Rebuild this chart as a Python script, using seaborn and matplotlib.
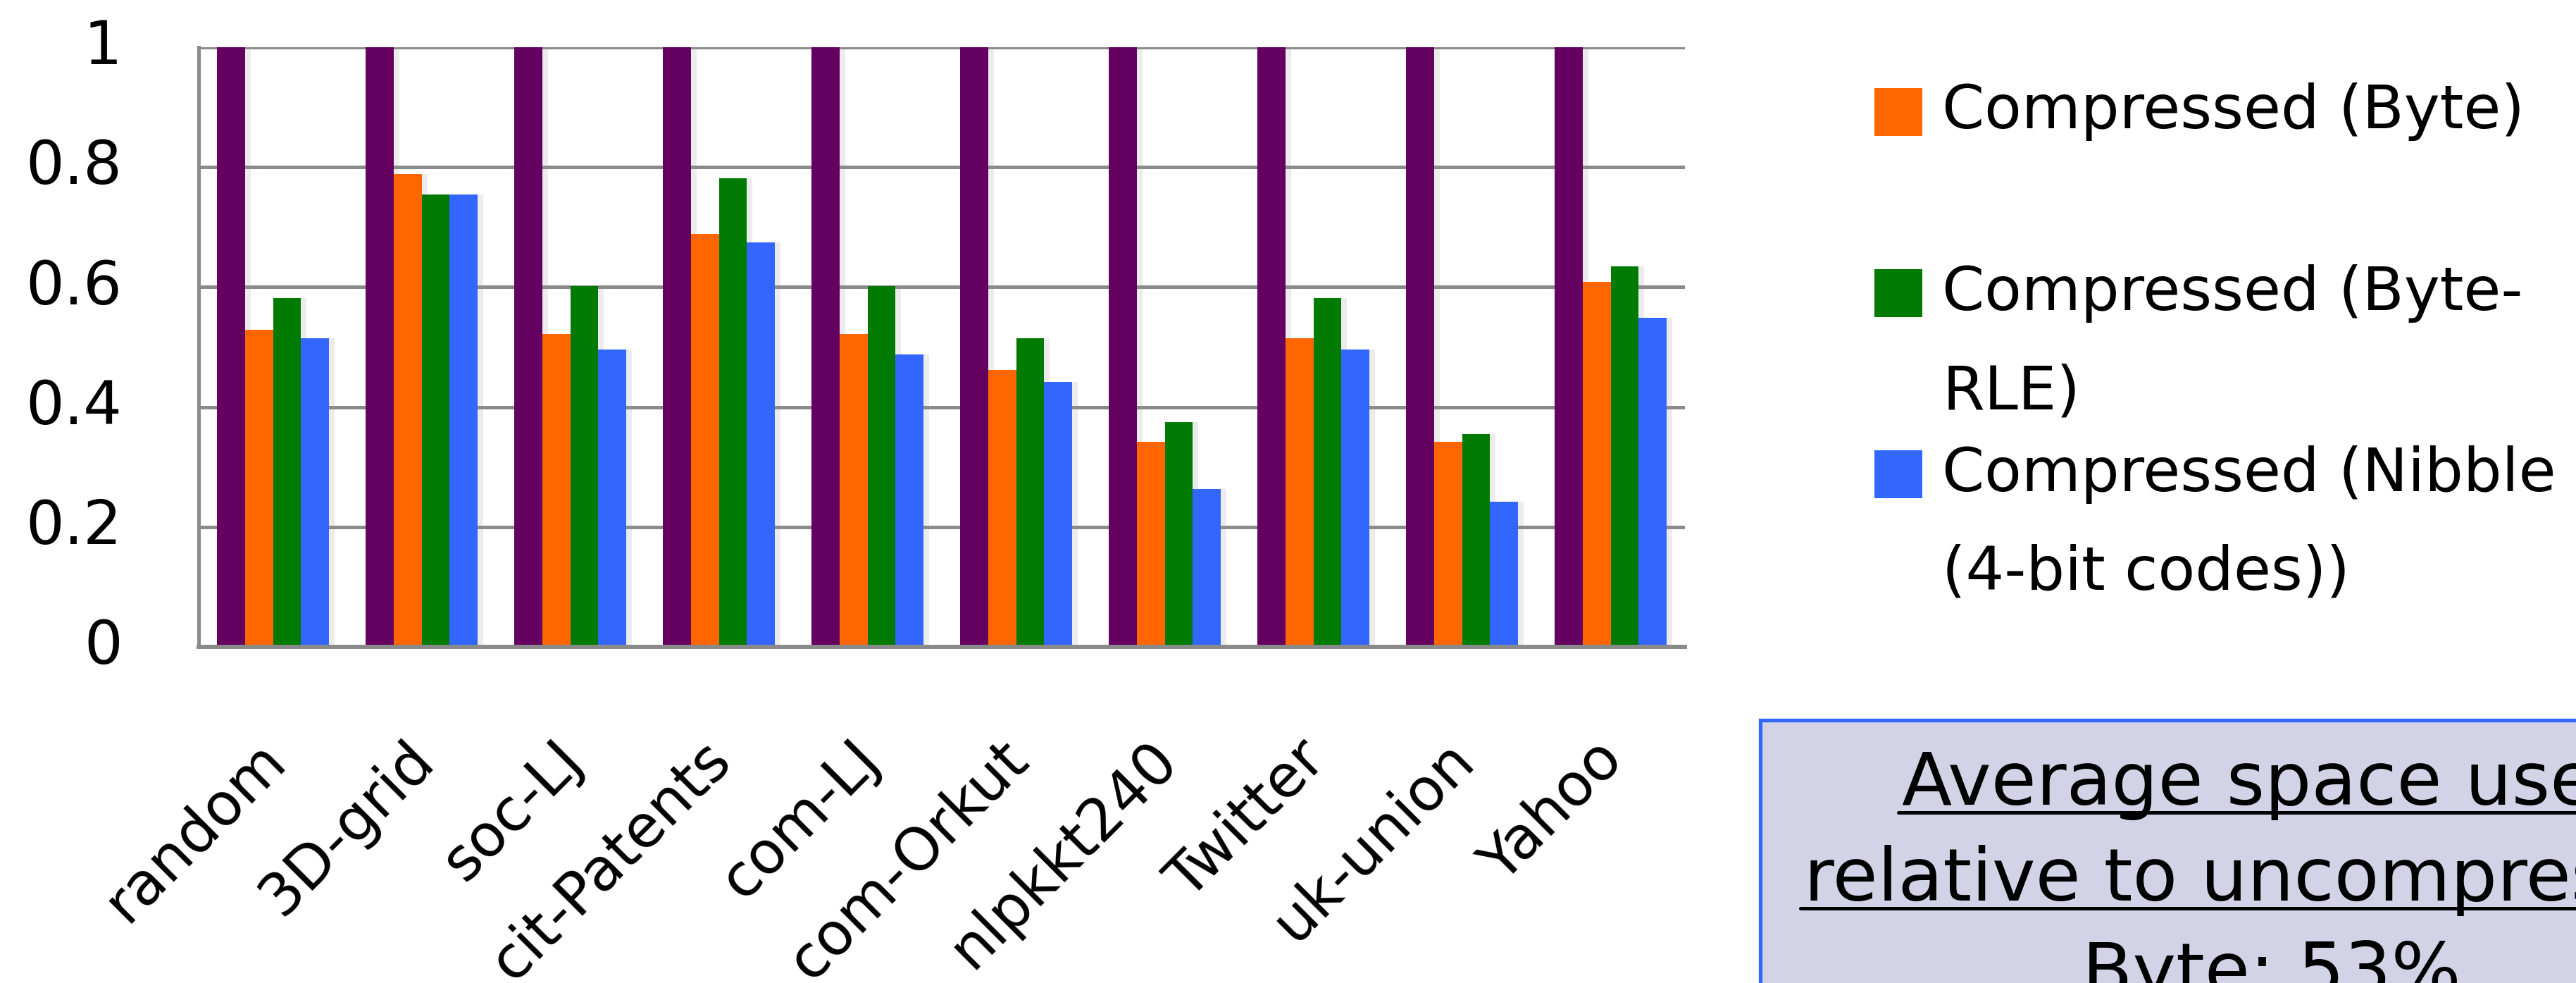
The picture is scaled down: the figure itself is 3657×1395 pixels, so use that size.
import numpy as np
import pandas as pd
import matplotlib
matplotlib.use("Agg")
import matplotlib.pyplot as plt
import seaborn as sns
from matplotlib import patheffects, transforms
from matplotlib.patches import Rectangle
from matplotlib.lines import Line2D

# ---- data -------------------------------------------------------------
graphs = ["random", "3D-grid", "soc-LJ", "cit-Patents", "com-LJ",
          "com-Orkut", "nlpkkt240", "Twitter", "uk-union", "Yahoo"]
formats = ["Uncompressed", "Compressed (Byte)", "Compressed (Byte-RLE)",
           "Compressed (Nibble (4-bit codes))"]
uncompressed = [1.0, 1.0, 1.0, 1.0, 1.0, 1.0, 1.0, 1.0, 1.0, 1.0]
byte = [0.529, 0.788, 0.522, 0.689, 0.522, 0.462, 0.342, 0.515, 0.342, 0.609]
byte_rle = [0.582, 0.754, 0.602, 0.781, 0.602, 0.515, 0.375, 0.582, 0.355, 0.635]
nibble = [0.515, 0.754, 0.496, 0.675, 0.488, 0.442, 0.263, 0.496, 0.242, 0.549]
colors = ["#640060", "#ff6600", "#007a00", "#3366ff"]
yticks = [0, 0.2, 0.4, 0.6, 0.8, 1.0]
ytick_labels = ["0", "0.2", "0.4", "0.6", "0.8", "1"]

df = pd.DataFrame({
    "graph": graphs * 4,
    "format": np.repeat(formats, len(graphs)),
    "ratio": uncompressed + byte + byte_rle + nibble,
})

# ---- style ------------------------------------------------------------
sns.set_style("white")
plt.rcParams["font.family"] = ["DejaVu Sans"]
GRAY = "#8a8a8a"
W, H = 3657, 1395
DPI = 100

fig = plt.figure(figsize=(W / DPI, H / DPI), dpi=DPI)
fig.patch.set_facecolor("white")

def px(x0, y_top, x1, y_bottom):
    """pixel box (y from top) -> figure fraction [left, bottom, width, height]"""
    return [x0 / W, 1 - y_bottom / H, (x1 - x0) / W, (y_bottom - y_top) / H]

ax = fig.add_axes(px(282, 67, 2392, 918))

sns.barplot(data=df, x="graph", y="ratio", hue="format", hue_order=formats,
            palette=colors, saturation=1, width=0.75, errorbar=None,
            legend=False, ax=ax)

# soft drop shadow to the right of each bar
for bar in ax.patches:
    bar.set_linewidth(0)
    bar.set_path_effects([
        patheffects.SimplePatchShadow(offset=(6, 0), shadow_rgbFace="#9a9a9a",
                                      alpha=0.18),
        patheffects.Normal(),
    ])

# ---- axes -------------------------------------------------------------
ax.set_xlim(-0.5, len(graphs) - 0.5)
ax.set_ylim(0, 1)
ax.set_xlabel("")
ax.set_ylabel("")
ax.set_axisbelow(True)
ax.yaxis.grid(True, color=GRAY, linewidth=3.6)
ax.xaxis.grid(False)

for side in ("top", "right"):
    ax.spines[side].set_visible(False)
ax.spines["left"].set_color(GRAY)
ax.spines["left"].set_linewidth(3.6)
ax.spines["bottom"].set_color(GRAY)
ax.spines["bottom"].set_linewidth(4.3)

ax.set_yticks(yticks)
ax.set_yticklabels(ytick_labels)
ax.tick_params(axis="y", length=24, width=3.6, color=GRAY, pad=54,
               labelsize=62, labelcolor="black")

ax.set_xticks(range(len(graphs)))
ax.set_xticklabels(graphs, rotation=45, ha="right", va="center",
                   rotation_mode="anchor")
ax.set_xticks(np.arange(-0.5, len(graphs), 1), minor=True)
ax.tick_params(axis="x", which="major", length=0, pad=106, labelsize=60,
               labelcolor="black")
ax.tick_params(axis="x", which="minor", length=24.5, width=3.6, color=GRAY)

shift_x = transforms.ScaledTranslation(3 / 72, 0, fig.dpi_scale_trans)
for lab in ax.get_xticklabels():
    lab.set_transform(lab.get_transform() + shift_x)
shift_y = transforms.ScaledTranslation(0, 6 / 72, fig.dpi_scale_trans)
for lab in ax.get_yticklabels():
    lab.set_transform(lab.get_transform() + shift_y)

# ---- legend (compressed formats) -------------------------------------
legend_rows = [
    (colors[1], 125, ["Compressed (Byte)"], [182]),
    (colors[2], 382, ["Compressed (Byte-", "RLE)"], [440, 581]),
    (colors[3], 639, ["Compressed (Nibble", "(4-bit codes))"], [697, 836]),
]
for color, sq_top, lines, baselines in legend_rows:
    fig.patches.append(Rectangle((2661 / W, 1 - (sq_top + 68) / H),
                                 68 / W, 68 / H, transform=fig.transFigure,
                                 facecolor=color, edgecolor="none"))
    for line, base in zip(lines, baselines):
        fig.text(2757 / W, 1 - base / H, line, fontsize=62,
                 ha="left", va="baseline", color="black")

# ---- summary box ------------------------------------------------------
fig.patches.append(Rectangle((2499 / W, 1 - 1460 / H), 1300 / W, 438 / H,
                             transform=fig.transFigure, facecolor="#d3d3e8",
                             edgecolor="#3366ff", linewidth=3.8))

cx = 3225 / W
box_lines = [
    ("Average space used", 1142, True),
    ("relative to uncompressed", 1278, True),
    (f"Byte: {np.mean(byte):.0%}", 1412, False),
]
texts = []
for s, base, underline in box_lines:
    t = fig.text(cx, 1 - base / H, s, fontsize=75, ha="center",
                 va="baseline", color="black")
    texts.append((t, base, underline))

fig.canvas.draw()
renderer = fig.canvas.get_renderer()
for t, base, underline in texts:
    if not underline:
        continue
    bb = t.get_window_extent(renderer)
    y = 1 - (base + 11) / H
    fig.lines.append(Line2D([(bb.x0 - 5) / W, (bb.x1 + 2) / W], [y, y],
                            transform=fig.transFigure, color="black",
                            linewidth=3.6))

fig.savefig("out.png", dpi=DPI, facecolor="white")
